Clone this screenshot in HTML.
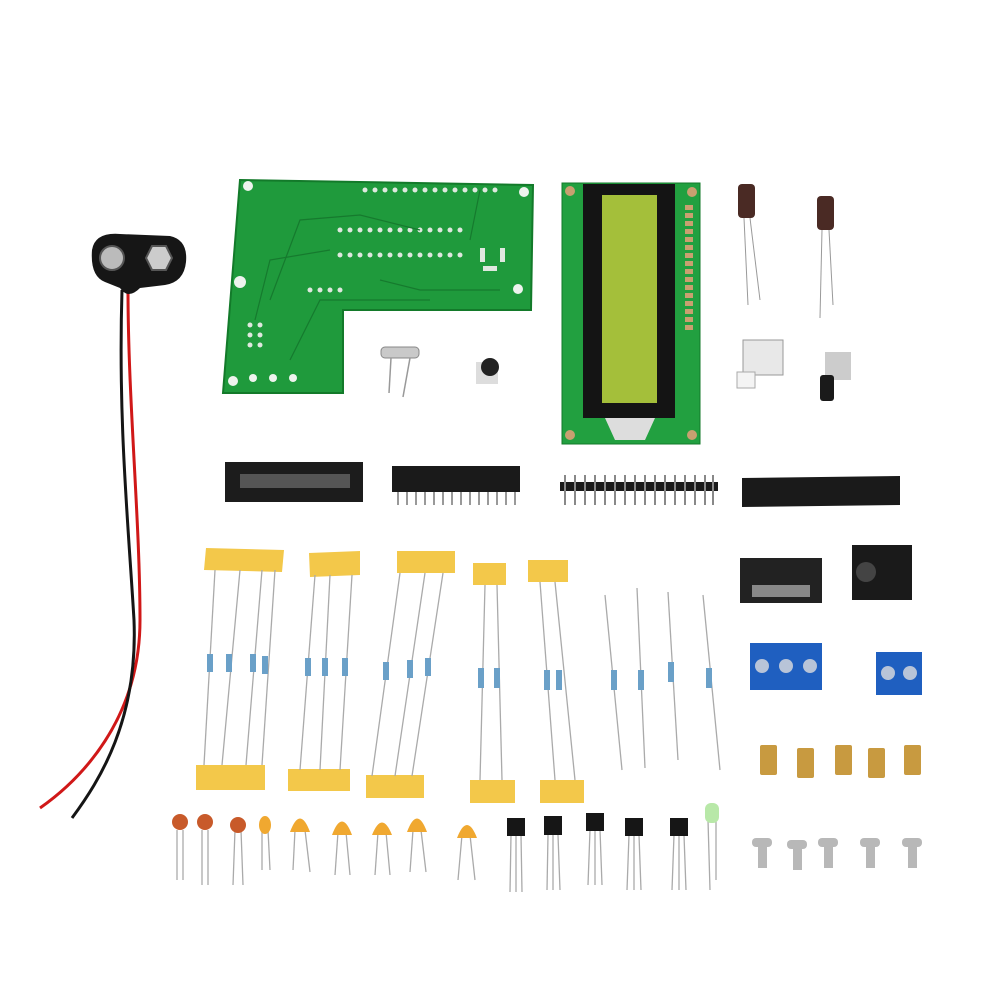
<!DOCTYPE html>
<html><head><meta charset="utf-8"><style>
html,body{margin:0;padding:0;background:#fff;width:1000px;height:1000px;overflow:hidden}
</style></head><body>
<svg width="1000" height="1000" viewBox="0 0 1000 1000" xmlns="http://www.w3.org/2000/svg">
<rect width="1000" height="1000" fill="#fff"/>
<!-- battery wires -->
<path d="M128 290 C128 400 140 520 140 620 C140 720 80 780 40 808" stroke="#d01818" stroke-width="3" fill="none"/>
<path d="M122 290 C118 420 128 520 134 620 C138 720 100 780 72 818" stroke="#151515" stroke-width="3" fill="none"/>
<!-- battery clip -->
<path d="M92 250 Q95 232 120 234 L170 236 Q188 240 186 262 Q184 282 165 285 L140 288 Q128 300 120 288 L105 282 Q90 276 92 250Z" fill="#161616"/>
<circle cx="112" cy="258" r="12" fill="#bbb" stroke="#555" stroke-width="2"/>
<polygon points="152,246 166,246 172,258 166,270 152,270 146,258" fill="#ccc" stroke="#555" stroke-width="2"/>
<!-- main PCB -->
<polygon points="240,180 533,185 531,310 343,310 343,393 223,393" fill="#1f9a3c" stroke="#137a2a" stroke-width="2"/>
<g fill="#eef3ee">
<circle cx="248" cy="186" r="5"/><circle cx="524" cy="192" r="5"/><circle cx="518" cy="289" r="5"/><circle cx="240" cy="282" r="6"/><circle cx="233" cy="381" r="5"/>
<circle cx="253" cy="378" r="4"/><circle cx="273" cy="378" r="4"/><circle cx="293" cy="378" r="4"/>
</g>
<g fill="#dfe8df">
<circle cx="365" cy="190" r="2.5"/><circle cx="375" cy="190" r="2.5"/><circle cx="385" cy="190" r="2.5"/><circle cx="395" cy="190" r="2.5"/><circle cx="405" cy="190" r="2.5"/><circle cx="415" cy="190" r="2.5"/><circle cx="425" cy="190" r="2.5"/><circle cx="435" cy="190" r="2.5"/><circle cx="445" cy="190" r="2.5"/><circle cx="455" cy="190" r="2.5"/><circle cx="465" cy="190" r="2.5"/><circle cx="475" cy="190" r="2.5"/><circle cx="485" cy="190" r="2.5"/><circle cx="495" cy="190" r="2.5"/>
<circle cx="340" cy="255" r="2.5"/><circle cx="350" cy="255" r="2.5"/><circle cx="360" cy="255" r="2.5"/><circle cx="370" cy="255" r="2.5"/><circle cx="380" cy="255" r="2.5"/><circle cx="390" cy="255" r="2.5"/><circle cx="400" cy="255" r="2.5"/><circle cx="410" cy="255" r="2.5"/><circle cx="420" cy="255" r="2.5"/><circle cx="430" cy="255" r="2.5"/><circle cx="440" cy="255" r="2.5"/><circle cx="450" cy="255" r="2.5"/><circle cx="460" cy="255" r="2.5"/>
<circle cx="340" cy="230" r="2.5"/><circle cx="350" cy="230" r="2.5"/><circle cx="360" cy="230" r="2.5"/><circle cx="370" cy="230" r="2.5"/><circle cx="380" cy="230" r="2.5"/><circle cx="390" cy="230" r="2.5"/><circle cx="400" cy="230" r="2.5"/><circle cx="410" cy="230" r="2.5"/><circle cx="420" cy="230" r="2.5"/><circle cx="430" cy="230" r="2.5"/><circle cx="440" cy="230" r="2.5"/><circle cx="450" cy="230" r="2.5"/><circle cx="460" cy="230" r="2.5"/>
<circle cx="250" cy="345" r="2.5"/><circle cx="260" cy="345" r="2.5"/><circle cx="250" cy="335" r="2.5"/><circle cx="260" cy="335" r="2.5"/><circle cx="250" cy="325" r="2.5"/><circle cx="260" cy="325" r="2.5"/>
<circle cx="310" cy="290" r="2.5"/><circle cx="320" cy="290" r="2.5"/><circle cx="330" cy="290" r="2.5"/><circle cx="340" cy="290" r="2.5"/>
<rect x="480" y="248" width="5" height="14"/><rect x="500" y="248" width="5" height="14"/><rect x="483" y="266" width="14" height="5"/>
</g>
<g stroke="#167a2e" stroke-width="1.2" fill="none">
<path d="M270 300 L300 220 L360 215 L420 230"/><path d="M290 360 L320 300 L430 300"/><path d="M380 280 L420 290 L500 290"/><path d="M480 190 L470 240"/><path d="M255 320 L270 260 L330 250"/>
</g>
<!-- crystal & pot -->
<rect x="381" y="347" width="38" height="11" rx="4" fill="#c9c9c9" stroke="#888"/>
<line x1="391" y1="358" x2="389" y2="393" stroke="#999" stroke-width="1.5"/><line x1="410" y1="358" x2="403" y2="397" stroke="#999" stroke-width="1.5"/>
<rect x="476" y="362" width="22" height="22" fill="#ddd"/><circle cx="490" cy="367" r="9" fill="#222"/>
<!-- LCD -->
<rect x="562" y="183" width="138" height="261" fill="#22a040" stroke="#137a2a"/>
<circle cx="570" cy="191" r="5" fill="#c9a070"/><circle cx="692" cy="192" r="5" fill="#c9a070"/><circle cx="570" cy="435" r="5" fill="#c9a070"/><circle cx="692" cy="435" r="5" fill="#c9a070"/>
<rect x="583" y="184" width="92" height="234" fill="#141414"/>
<rect x="602" y="195" width="55" height="208" fill="#a4bf3a"/>
<polygon points="605,418 655,418 645,440 615,440" fill="#ddd"/>
<g fill="#c9a070"><rect x="685" y="205" width="8" height="5"/><rect x="685" y="213" width="8" height="5"/><rect x="685" y="221" width="8" height="5"/><rect x="685" y="229" width="8" height="5"/><rect x="685" y="237" width="8" height="5"/><rect x="685" y="245" width="8" height="5"/><rect x="685" y="253" width="8" height="5"/><rect x="685" y="261" width="8" height="5"/><rect x="685" y="269" width="8" height="5"/><rect x="685" y="277" width="8" height="5"/><rect x="685" y="285" width="8" height="5"/><rect x="685" y="293" width="8" height="5"/><rect x="685" y="301" width="8" height="5"/><rect x="685" y="309" width="8" height="5"/><rect x="685" y="317" width="8" height="5"/><rect x="685" y="325" width="8" height="5"/></g>
<!-- electrolytic caps -->
<rect x="738" y="184" width="17" height="34" rx="4" fill="#4a2a24"/><line x1="744" y1="218" x2="748" y2="305" stroke="#999"/><line x1="750" y1="218" x2="760" y2="300" stroke="#999"/>
<rect x="817" y="196" width="17" height="34" rx="4" fill="#4a2a24"/><line x1="822" y1="230" x2="820" y2="318" stroke="#999"/><line x1="829" y1="230" x2="833" y2="305" stroke="#999"/>
<!-- switches -->
<rect x="743" y="340" width="40" height="35" fill="#e8e8e8" stroke="#999"/><rect x="737" y="372" width="18" height="16" fill="#f4f4f4" stroke="#aaa"/>
<rect x="825" y="352" width="26" height="28" fill="#ccc"/><rect x="820" y="375" width="14" height="26" rx="3" fill="#1a1a1a"/>
<!-- sockets/headers -->
<rect x="225" y="462" width="138" height="40" fill="#1c1c1c"/><rect x="240" y="474" width="110" height="14" fill="#555"/>
<rect x="392" y="466" width="128" height="26" fill="#1a1a1a"/>
<g stroke="#999" stroke-width="2"><line x1="398" y1="492" x2="398" y2="505"/><line x1="407" y1="492" x2="407" y2="505"/><line x1="416" y1="492" x2="416" y2="505"/><line x1="425" y1="492" x2="425" y2="505"/><line x1="434" y1="492" x2="434" y2="505"/><line x1="443" y1="492" x2="443" y2="505"/><line x1="452" y1="492" x2="452" y2="505"/><line x1="461" y1="492" x2="461" y2="505"/><line x1="470" y1="492" x2="470" y2="505"/><line x1="479" y1="492" x2="479" y2="505"/><line x1="488" y1="492" x2="488" y2="505"/><line x1="497" y1="492" x2="497" y2="505"/><line x1="506" y1="492" x2="506" y2="505"/><line x1="515" y1="492" x2="515" y2="505"/></g>
<rect x="560" y="482" width="158" height="9" fill="#1a1a1a"/>
<g stroke="#888" stroke-width="2"><line x1="565" y1="475" x2="565" y2="505"/><line x1="575" y1="475" x2="575" y2="505"/><line x1="585" y1="475" x2="585" y2="505"/><line x1="595" y1="475" x2="595" y2="505"/><line x1="605" y1="475" x2="605" y2="505"/><line x1="615" y1="475" x2="615" y2="505"/><line x1="625" y1="475" x2="625" y2="505"/><line x1="635" y1="475" x2="635" y2="505"/><line x1="645" y1="475" x2="645" y2="505"/><line x1="655" y1="475" x2="655" y2="505"/><line x1="665" y1="475" x2="665" y2="505"/><line x1="675" y1="475" x2="675" y2="505"/><line x1="685" y1="475" x2="685" y2="505"/><line x1="695" y1="475" x2="695" y2="505"/><line x1="705" y1="475" x2="705" y2="505"/><line x1="713" y1="475" x2="713" y2="505"/></g>
<polygon points="742,478 900,476 900,505 742,507" fill="#1a1a1a"/>
<!-- IDC & DC jack -->
<rect x="740" y="558" width="82" height="45" fill="#222"/><rect x="752" y="585" width="58" height="12" fill="#888"/>
<rect x="852" y="545" width="60" height="55" fill="#1a1a1a"/><circle cx="866" cy="572" r="10" fill="#444"/>
<!-- terminal blocks -->
<rect x="750" y="643" width="72" height="47" fill="#1f5fc0"/><circle cx="762" cy="666" r="7" fill="#b8c4d8"/><circle cx="786" cy="666" r="7" fill="#b8c4d8"/><circle cx="810" cy="666" r="7" fill="#b8c4d8"/>
<rect x="876" y="652" width="46" height="43" fill="#1f5fc0"/><circle cx="888" cy="673" r="7" fill="#b8c4d8"/><circle cx="910" cy="673" r="7" fill="#b8c4d8"/>
<!-- standoffs -->
<g fill="#c89a40"><rect x="760" y="745" width="17" height="30" rx="2"/><rect x="797" y="748" width="17" height="30" rx="2"/><rect x="835" y="745" width="17" height="30" rx="2"/><rect x="868" y="748" width="17" height="30" rx="2"/><rect x="904" y="745" width="17" height="30" rx="2"/></g>
<!-- screws -->
<g fill="#b8b8b8"><rect x="752" y="838" width="20" height="9" rx="4"/><rect x="758" y="846" width="9" height="22"/><rect x="787" y="840" width="20" height="9" rx="4"/><rect x="793" y="848" width="9" height="22"/><rect x="818" y="838" width="20" height="9" rx="4"/><rect x="824" y="846" width="9" height="22"/><rect x="860" y="838" width="20" height="9" rx="4"/><rect x="866" y="846" width="9" height="22"/><rect x="902" y="838" width="20" height="9" rx="4"/><rect x="908" y="846" width="9" height="22"/></g>
<!-- resistor groups: tape -->
<g fill="#f3c84a">
<polygon points="206,548 284,550 282,572 204,570"/><polygon points="309,553 360,551 360,575 310,577"/><polygon points="397,551 455,551 455,573 397,573"/><polygon points="473,563 506,563 506,585 473,585"/><polygon points="528,560 568,560 568,582 528,582"/>
<polygon points="196,765 265,765 265,790 196,790"/><polygon points="288,769 350,769 350,791 288,791"/><polygon points="366,775 424,775 424,798 366,798"/><polygon points="470,780 515,780 515,803 470,803"/><polygon points="540,780 584,780 584,803 540,803"/>
</g>
<g stroke="#aaa" stroke-width="1.3" fill="none">
<path d="M215 570 L204 765"/><path d="M240 570 L222 765"/><path d="M262 570 L246 765"/><path d="M275 570 L262 765"/>
<path d="M315 575 L300 770"/><path d="M330 575 L320 770"/><path d="M352 575 L340 770"/>
<path d="M400 573 L372 776"/><path d="M425 573 L395 776"/><path d="M443 573 L412 776"/>
<path d="M485 585 L480 780"/><path d="M497 585 L502 780"/>
<path d="M540 582 L555 780"/><path d="M555 582 L575 780"/>
<path d="M605 595 L622 770"/><path d="M637 588 L645 768"/><path d="M668 592 L678 760"/><path d="M703 595 L720 770"/>
</g>
<g fill="#6aa0c8">
<rect x="207" y="654" width="6" height="18"/><rect x="226" y="654" width="6" height="18"/><rect x="250" y="654" width="6" height="18"/><rect x="262" y="656" width="6" height="18"/>
<rect x="305" y="658" width="6" height="18"/><rect x="322" y="658" width="6" height="18"/><rect x="342" y="658" width="6" height="18"/>
<rect x="383" y="662" width="6" height="18"/><rect x="407" y="660" width="6" height="18"/><rect x="425" y="658" width="6" height="18"/>
<rect x="478" y="668" width="6" height="20"/><rect x="494" y="668" width="6" height="20"/>
<rect x="544" y="670" width="6" height="20"/><rect x="556" y="670" width="6" height="20"/>
<rect x="611" y="670" width="6" height="20"/><rect x="638" y="670" width="6" height="20"/><rect x="668" y="662" width="6" height="20"/><rect x="706" y="668" width="6" height="20"/>
</g>
<!-- ceramic caps -->
<g stroke="#aaa" stroke-width="1.3"><line x1="177" y1="830" x2="177" y2="880"/><line x1="183" y1="830" x2="183" y2="880"/><line x1="202" y1="830" x2="202" y2="885"/><line x1="208" y1="830" x2="208" y2="885"/><line x1="235" y1="830" x2="233" y2="885"/><line x1="241" y1="830" x2="243" y2="885"/><line x1="262" y1="830" x2="262" y2="870"/><line x1="268" y1="830" x2="270" y2="870"/><line x1="295" y1="830" x2="293" y2="870"/><line x1="305" y1="830" x2="310" y2="872"/><line x1="338" y1="832" x2="335" y2="875"/><line x1="346" y1="832" x2="350" y2="875"/><line x1="378" y1="832" x2="375" y2="875"/><line x1="386" y1="832" x2="390" y2="875"/><line x1="413" y1="830" x2="410" y2="872"/><line x1="421" y1="830" x2="426" y2="872"/><line x1="462" y1="835" x2="458" y2="880"/><line x1="470" y1="835" x2="475" y2="880"/></g>
<g fill="#c85a2a"><circle cx="180" cy="822" r="8"/><circle cx="205" cy="822" r="8"/><circle cx="238" cy="825" r="8"/></g>
<g fill="#f0a830"><ellipse cx="265" cy="825" rx="6" ry="9"/><path d="M290 832 Q300 805 310 832Z"/><path d="M332 835 Q342 808 352 835Z"/><path d="M372 835 Q382 810 392 835Z"/><path d="M407 832 Q417 805 427 832Z"/><path d="M457 838 Q467 812 477 838Z"/></g>
<!-- transistors -->
<g stroke="#aaa" stroke-width="1.3"><line x1="511" y1="835" x2="510" y2="892"/><line x1="516" y1="835" x2="516" y2="892"/><line x1="521" y1="835" x2="522" y2="892"/><line x1="548" y1="835" x2="547" y2="890"/><line x1="553" y1="835" x2="553" y2="890"/><line x1="558" y1="835" x2="560" y2="890"/><line x1="590" y1="830" x2="588" y2="885"/><line x1="595" y1="830" x2="595" y2="885"/><line x1="600" y1="830" x2="602" y2="885"/><line x1="629" y1="835" x2="627" y2="890"/><line x1="634" y1="835" x2="634" y2="890"/><line x1="639" y1="835" x2="641" y2="890"/><line x1="674" y1="835" x2="672" y2="890"/><line x1="679" y1="835" x2="679" y2="890"/><line x1="684" y1="835" x2="686" y2="890"/><line x1="708" y1="820" x2="710" y2="890"/><line x1="716" y1="820" x2="716" y2="880"/></g>
<g fill="#161616"><path d="M507 818 h18 v18 h-18 Z"/><path d="M544 816 h18 v19 h-18 Z"/><path d="M586 813 h18 v18 h-18 Z"/><path d="M625 818 h18 v18 h-18 Z"/><path d="M670 818 h18 v18 h-18 Z"/></g>
<rect x="705" y="803" width="14" height="20" rx="6" fill="#b8e8a8"/>
</svg>
</body></html>
